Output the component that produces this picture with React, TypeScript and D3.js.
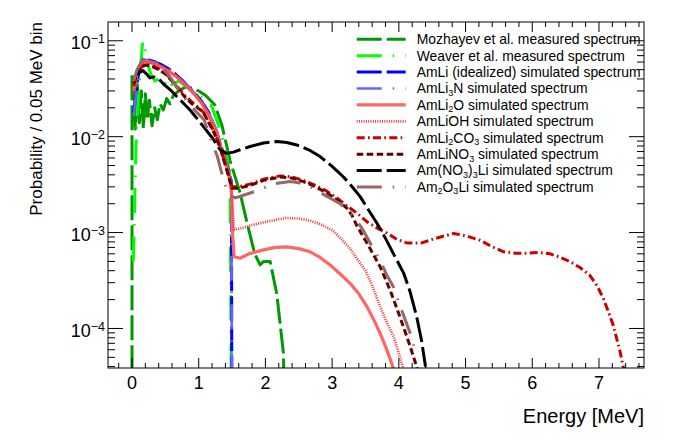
import React, { useEffect, useRef } from 'react';
import * as d3 from 'd3';

type Pt = [number, number];

// energy [MeV] vs probability per 0.05 MeV bin (1e-6 = falls off the bottom)
const mozhayev: Pt[] = [
  [0.0, 1e-6], [0.0, 0.046], [0.03, 0.03], [0.05, 0.012], [0.08, 0.035], [0.11, 0.014],
  [0.14, 0.03], [0.17, 0.012], [0.2, 0.028], [0.23, 0.015], [0.26, 0.024], [0.3, 0.013],
  [0.34, 0.02], [0.38, 0.015], [0.42, 0.022], [0.47, 0.019], [0.52, 0.025], [0.57, 0.022],
  [0.62, 0.027], [0.7, 0.03], [0.8, 0.033], [0.9, 0.032], [1.0, 0.03], [1.1, 0.027],
  [1.24, 0.0215], [1.35, 0.013], [1.47, 0.0056], [1.62, 0.0026], [1.72, 0.0013], [1.84, 6e-4],
  [1.92, 4.6e-4], [1.97, 5e-4], [2.07, 5e-4], [2.17, 2.3e-4], [2.27, 5.5e-5], [2.31, 1e-6],
];
const weaver: Pt[] = [
  [0.02, 5e-4], [0.04, 0.002], [0.06, 0.008], [0.08, 0.018], [0.1, 0.03], [0.13, 0.055],
  [0.16, 0.1], [0.19, 0.09], [0.22, 0.065], [0.26, 0.05], [0.3, 0.042], [0.35, 0.038],
  [0.4, 0.04], [0.45, 0.034], [0.5, 0.036], [0.55, 0.031], [0.6, 0.035], [0.7, 0.038],
  [0.8, 0.034], [0.9, 0.03], [1.0, 0.027], [1.1, 0.024], [1.18, 0.022], [1.3, 0.013],
  [1.4, 0.0075], [1.47, 0.0038], [1.5, 1e-6],
];
const amLi: Pt[] = [
  [0.025, 0.018], [0.075, 0.036], [0.125, 0.057], [0.175, 0.066], [0.25, 0.063], [0.35, 0.06],
  [0.45, 0.056], [0.55, 0.051], [0.65, 0.045], [0.75, 0.039], [0.85, 0.033], [0.95, 0.028],
  [1.05, 0.023], [1.15, 0.018], [1.27, 0.0113], [1.4, 0.0057], [1.46, 0.0042], [1.49, 0.0034],
  [1.5, 1e-6],
];
const amLi3N: Pt[] = [
  [0.025, 0.0165], [0.075, 0.034], [0.125, 0.055], [0.175, 0.064], [0.25, 0.062], [0.35, 0.059],
  [0.45, 0.055], [0.55, 0.05], [0.65, 0.044], [0.75, 0.038], [0.85, 0.033], [0.95, 0.028],
  [1.05, 0.023], [1.15, 0.018], [1.27, 0.0112], [1.4, 0.0056], [1.46, 0.0041], [1.49, 0.0033],
  [1.5, 1e-6],
];
const amLi2O: Pt[] = [
  [0.025, 0.03], [0.075, 0.045], [0.125, 0.055], [0.175, 0.061], [0.25, 0.06], [0.35, 0.057],
  [0.45, 0.053], [0.55, 0.048], [0.65, 0.043], [0.75, 0.037], [0.85, 0.032], [0.95, 0.027],
  [1.05, 0.022], [1.15, 0.017], [1.27, 0.011], [1.4, 0.0055], [1.46, 0.0038], [1.49, 0.0028],
  [1.51, 9e-4], [1.53, 5.6e-4], [1.62, 5.4e-4], [1.75, 6.0e-4], [1.97, 6.6e-4], [2.15, 7.0e-4],
  [2.32, 7.1e-4], [2.5, 6.8e-4], [2.67, 6.3e-4], [2.82, 5.5e-4], [2.97, 4.6e-4], [3.12, 3.7e-4],
  [3.27, 2.95e-4], [3.4, 2.3e-4], [3.52, 1.7e-4], [3.62, 1.25e-4], [3.72, 8.9e-5], [3.8, 6.5e-5],
  [3.87, 4.8e-5], [3.95, 3.3e-5],
];
const amLiOH: Pt[] = [
  [0.025, 0.028], [0.075, 0.044], [0.125, 0.054], [0.175, 0.06], [0.25, 0.06], [0.35, 0.058],
  [0.45, 0.054], [0.55, 0.049], [0.65, 0.044], [0.75, 0.038], [0.85, 0.032], [0.95, 0.027],
  [1.05, 0.022], [1.15, 0.017], [1.27, 0.0108], [1.4, 0.0056], [1.46, 0.0039], [1.5, 0.0022],
  [1.53, 1.07e-3], [1.62, 1.1e-3], [1.8, 1.2e-3], [2.02, 1.3e-3], [2.3, 1.42e-3], [2.5, 1.4e-3],
  [2.67, 1.33e-3], [2.85, 1.2e-3], [3.01, 1.05e-3], [3.12, 8.8e-4], [3.27, 6.8e-4], [3.4, 5e-4],
  [3.5, 4e-4], [3.6, 2.8e-4], [3.72, 1.7e-4], [3.82, 1.15e-4], [3.92, 8.3e-5], [4.0, 5.5e-5],
  [4.08, 3.5e-5],
];
const amLi2CO3: Pt[] = [
  [0.025, 0.034], [0.075, 0.045], [0.125, 0.052], [0.2, 0.057], [0.3, 0.055], [0.4, 0.051],
  [0.5, 0.046], [0.6, 0.039], [0.7, 0.032], [0.79, 0.027], [0.9, 0.023], [1.07, 0.018],
  [1.23, 0.0112], [1.32, 0.0078], [1.42, 0.0046], [1.5, 0.003], [1.6, 0.003], [1.77, 0.0032],
  [1.97, 0.0036], [2.22, 0.0039], [2.4, 0.0038], [2.57, 0.0035], [2.75, 0.0031], [2.92, 0.0027],
  [3.07, 0.0023], [3.22, 0.0019], [3.37, 0.0016], [3.52, 0.0013], [3.67, 0.00112], [3.82, 9.9e-4],
  [3.97, 8.5e-4], [4.12, 7.8e-4], [4.34, 7.8e-4], [4.55, 8.7e-4], [4.82, 9.8e-4], [5.02, 9.2e-4],
  [5.22, 8.3e-4], [5.4, 7.1e-4], [5.57, 6.3e-4], [5.75, 6.1e-4], [5.92, 6.1e-4], [6.1, 6.2e-4],
  [6.27, 6.0e-4], [6.42, 5.5e-4], [6.56, 5.0e-4], [6.72, 4.3e-4], [6.86, 3.6e-4], [6.97, 2.8e-4],
  [7.06, 2.1e-4], [7.14, 1.5e-4], [7.21, 1.1e-4], [7.31, 6e-5], [7.38, 3.5e-5],
];
const amLiNO3: Pt[] = [
  [0.025, 0.036], [0.075, 0.046], [0.125, 0.052], [0.2, 0.056], [0.3, 0.054], [0.4, 0.05],
  [0.5, 0.045], [0.6, 0.038], [0.7, 0.031], [0.79, 0.026], [0.9, 0.022], [1.07, 0.018],
  [1.23, 0.011], [1.32, 0.0077], [1.42, 0.0045], [1.5, 0.0029], [1.6, 0.0029], [1.77, 0.0031],
  [1.97, 0.0035], [2.22, 0.0038], [2.4, 0.0037], [2.57, 0.0034], [2.75, 0.003], [2.92, 0.0026],
  [3.07, 0.0022], [3.22, 0.0018], [3.3, 0.0015], [3.37, 0.00118], [3.55, 7.2e-4], [3.72, 4.4e-4],
  [3.87, 2.5e-4], [4.02, 1.3e-4], [4.17, 6.5e-5], [4.23, 4.8e-5], [4.3, 3.4e-5],
];
const amNO33Li: Pt[] = [
  [0.045, 0.043], [0.1, 0.046], [0.16, 0.049], [0.22, 0.045], [0.27, 0.041], [0.33, 0.042],
  [0.4, 0.04], [0.48, 0.035], [0.57, 0.031], [0.7, 0.025], [0.87, 0.019], [0.97, 0.0156],
  [1.1, 0.012], [1.2, 0.0098], [1.32, 0.0073], [1.42, 0.0067], [1.52, 0.0069], [1.62, 0.0073],
  [1.77, 0.0079], [1.97, 0.0086], [2.17, 0.0089], [2.32, 0.0087], [2.47, 0.0082], [2.65, 0.0073],
  [2.82, 0.0062], [3.0, 0.0049], [3.17, 0.0038], [3.3, 0.003], [3.42, 0.00237], [3.55, 0.0017],
  [3.67, 0.00126], [3.8, 8.7e-4], [3.92, 6e-4], [4.07, 3.8e-4], [4.17, 2.4e-4], [4.27, 1.3e-4],
  [4.34, 7.5e-5], [4.4, 4e-5],
];
const am2O3Li: Pt[] = [
  [0.025, 0.038], [0.075, 0.05], [0.15, 0.062], [0.24, 0.066], [0.35, 0.06], [0.45, 0.052],
  [0.55, 0.044], [0.65, 0.035], [0.74, 0.028], [0.85, 0.022], [0.97, 0.018], [1.08, 0.015],
  [1.18, 0.0095], [1.28, 0.0062], [1.36, 0.0038], [1.44, 0.0025], [1.55, 0.0023], [1.67, 0.00245],
  [1.92, 0.0028], [2.1, 0.0032], [2.37, 0.0034], [2.5, 0.0033], [2.67, 0.003], [2.87, 0.0025],
  [3.12, 0.002], [3.32, 0.00148], [3.45, 0.0011], [3.57, 7.8e-4], [3.72, 5.1e-4], [3.82, 3.6e-4],
  [3.92, 2.7e-4], [4.05, 1.5e-4], [4.17, 8.9e-5], [4.24, 6e-5],
];

// legend text pieces: [text, subscript?]
const legendLabels: [string, boolean][][] = [
  [['Mozhayev et al. measured spectrum', false]],
  [['Weaver et al. measured spectrum', false]],
  [['AmLi (idealized) simulated spectrum', false]],
  [['AmLi', false], ['3', true], ['N simulated spectrum', false]],
  [['AmLi', false], ['2', true], ['O simulated spectrum', false]],
  [['AmLiOH simulated spectrum', false]],
  [['AmLi', false], ['2', true], ['CO', false], ['3', true], [' simulated spectrum', false]],
  [['AmLiNO', false], ['3', true], [' simulated spectrum', false]],
  [['Am(NO', false], ['3', true], [')', false], ['3', true], ['Li simulated spectrum', false]],
  [['Am', false], ['2', true], ['O', false], ['3', true], ['Li simulated spectrum', false]],
];

const xTicks = [0, 1, 2, 3, 4, 5, 6, 7];
const yTicks = [1e-1, 1e-2, 1e-3, 1e-4];
const yTickExp = ['\u22121', '\u22122', '\u22123', '\u22124'];

const W = 678, H = 439;
const FONT = '"Liberation Sans", Arial, Helvetica, sans-serif';

export default function App() {
  const ref = useRef<SVGSVGElement>(null);

  useEffect(() => {
    const svg = d3.select(ref.current);
    svg.selectAll('*').remove();

    const x = d3.scaleLinear().domain([-0.36, 7.675]).range([108, 644]);
    const y = d3.scaleLog().domain([3.87e-5, 0.157]).range([368, 22]);
    const [x0, x1] = x.range();
    const [y0, y1] = y.range();

    const series = [
      { data: mozhayev, color: '#009900', dash: '25,5', w: 3 },
      { data: weaver, color: '#00ff00', dash: '25,11,1.5,11', w: 3 },
      { data: amLi, color: '#0000ff', dash: '25,5', w: 3 },
      { data: amLi3N, color: '#6666ff', dash: '25,11,1.5,11', w: 2.6 },
      { data: amLi2O, color: '#ff6666', dash: null, w: 3.2 },
      { data: amLiOH, color: '#ff3333', dash: '1,1.3', w: 2.7 },
      { data: amLi2CO3, color: '#cc0000', dash: '8,3.3,1.7,3.3', w: 3 },
      { data: amLiNO3, color: '#660000', dash: '6.5,3.5', w: 3 },
      { data: amNO33Li, color: '#000000', dash: '25,5', w: 3 },
      { data: am2O3Li, color: '#996666', dash: '25,11,1.5,11', w: 3 },
    ];

    svg.append('rect').attr('width', W).attr('height', H).attr('fill', '#fff');

    svg.append('clipPath').attr('id', 'plotclip')
      .append('rect').attr('x', x0).attr('y', y1).attr('width', x1 - x0).attr('height', y0 - y1);

    const line = d3.line<Pt>().x(d => x(d[0])).y(d => y(d[1]));
    const curves = svg.append('g').attr('clip-path', 'url(#plotclip)');
    series.forEach(s => {
      curves.append('path')
        .attr('d', line(s.data))
        .attr('fill', 'none')
        .attr('stroke', s.color)
        .attr('stroke-width', s.w)
        .attr('stroke-dasharray', s.dash)
        .attr('stroke-linejoin', 'round');
    });

    // frame + ticks, ROOT style
    svg.append('rect').attr('x', x0).attr('y', y1).attr('width', x1 - x0).attr('height', y0 - y1)
      .attr('fill', 'none').attr('stroke', '#000').attr('stroke-width', 1);

    const ticks = svg.append('g').attr('stroke', '#000').attr('stroke-width', 1);
    const xMinor = d3.range(-0.2, 7.7, 0.2).filter(v => v >= -0.36 && v <= 7.675);
    xMinor.forEach(v => {
      const major = xTicks.some(t => Math.abs(t - v) < 1e-6);
      const len = major ? 10 : 5;
      ticks.append('line').attr('x1', x(v)).attr('x2', x(v)).attr('y1', y0).attr('y2', y0 - len);
      ticks.append('line').attr('x1', x(v)).attr('x2', x(v)).attr('y1', y1).attr('y2', y1 + len);
    });
    const yAll: number[] = [];
    for (let e = -5; e <= -1; e++) for (let k = 1; k <= 9; k++) yAll.push(k * Math.pow(10, e));
    yAll.filter(v => v >= 3.87e-5 && v <= 0.157).forEach(v => {
      const major = yTicks.some(t => Math.abs(t - v) / t < 1e-6);
      const len = major ? 15 : 7;
      ticks.append('line').attr('x1', x0).attr('x2', x0 + len).attr('y1', y(v)).attr('y2', y(v));
      ticks.append('line').attr('x1', x1).attr('x2', x1 - len).attr('y1', y(v)).attr('y2', y(v));
    });

    // tick labels
    xTicks.forEach(t => {
      svg.append('text').attr('x', x(t)).attr('y', 388.5).attr('text-anchor', 'middle')
        .attr('font-family', FONT).attr('font-size', 18).text(String(t));
    });
    yTicks.forEach((t, i) => {
      const tx = svg.append('text').attr('x', 105).attr('y', y(t) + 8.7).attr('text-anchor', 'end')
        .attr('font-family', FONT).attr('font-size', 18);
      tx.append('tspan').text('10');
      tx.append('tspan').attr('font-size', 12.5).attr('dy', -6.5).text(yTickExp[i]);
    });

    // axis titles
    svg.append('text').attr('x', x1).attr('y', 423.3).attr('text-anchor', 'end')
      .attr('font-family', FONT).attr('font-size', 20).text('Energy [MeV]');
    svg.append('text').attr('transform', `translate(42,${y1}) rotate(-90)`).attr('text-anchor', 'end')
      .attr('font-family', FONT).attr('font-size', 17).text('Probability / 0.05 MeV bin');

    // legend
    const leg = svg.append('g');
    legendLabels.forEach((parts, i) => {
      const ry = 39.3 + 16.41 * i;
      const s = series[i];
      leg.append('line').attr('x1', 356.7).attr('x2', 405.7).attr('y1', ry).attr('y2', ry)
        .attr('stroke', s.color).attr('stroke-width', s.w).attr('stroke-dasharray', s.dash);
      const t = leg.append('text').attr('x', 416.7).attr('y', ry + 4.8)
        .attr('font-family', FONT).attr('font-size', 13.9);
      let shifted = false;
      parts.forEach(([txt, sub]) => {
        const sp = t.append('tspan').text(txt);
        if (sub && !shifted) { sp.attr('dy', 2.6).attr('font-size', 9); shifted = true; }
        else if (sub) { sp.attr('font-size', 9); }
        else if (shifted) { sp.attr('dy', -2.6); shifted = false; }
      });
    });
  }, []);

  return (
    <svg ref={ref} width={W} height={H}
      style={{ position: 'absolute', left: 0, top: 0, display: 'block' }} />
  );
}
